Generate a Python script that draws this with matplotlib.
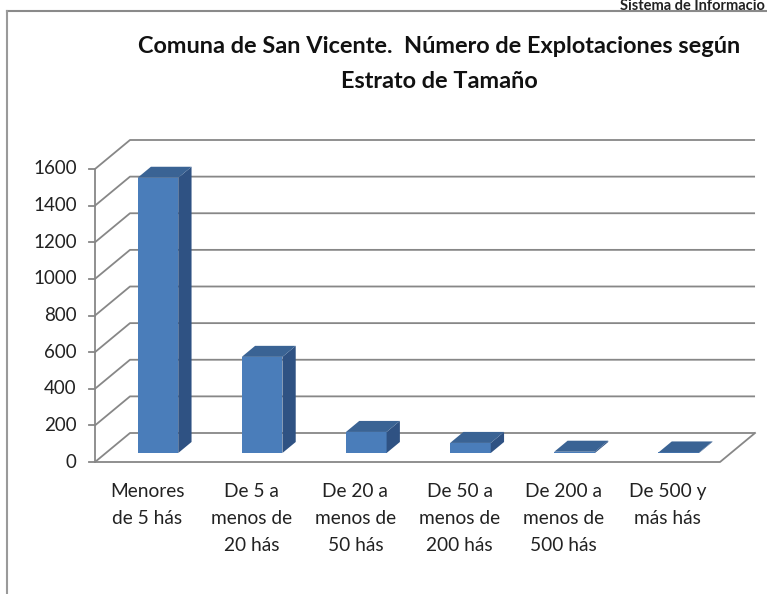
import matplotlib
matplotlib.use("Agg")
import matplotlib.pyplot as plt
from matplotlib.patches import Polygon

FONT = ["Lato", "DejaVu Sans"]

categories = ["Menores\nde 5 hás", "De 5 a\nmenos de\n20 hás", "De 20 a\nmenos de\n50 hás",
              "De 50 a\nmenos de\n200 hás", "De 200 a\nmenos de\n500 hás", "De 500 y\nmás hás"]
values = [1503, 525, 115, 55, 7, 3]
yticks = [0, 200, 400, 600, 800, 1000, 1200, 1400, 1600]
title = "Comuna de San Vicente.  Número de Explotaciones según\nEstrato de Tamaño"

W, H = 767, 594
fig = plt.figure(figsize=(W / 100, H / 100), dpi=100)
ax = fig.add_axes([0, 0, 1, 1])
ax.axis("off")

# pixel geometry -> data mapping
x0px, slot_px = 95.0, 104.17
y0px, ppu = 462.0, 293.0 / 1600
ax.set_xlim(-x0px / slot_px, (W - x0px) / slot_px)
ax.set_ylim((y0px - H) / ppu, y0px / ppu)
DX = 35.0 / slot_px      # depth offset in x units
DY = 29.0 / ppu          # depth offset in value units
n = len(categories)
ymax = yticks[-1]

grid_c = "#878787"
lw = 1.3
# wall gridlines (left wall diagonals + back wall)
for v in yticks:
    ax.plot([0, DX, n + DX], [v, v + DY, v + DY], color=grid_c, lw=lw, zorder=1,
            solid_capstyle="butt")
# floor outline
ax.plot([0, n, n + DX], [0, 0, DY], color=grid_c, lw=lw, zorder=1)
# front vertical axis and ticks
ax.plot([0, 0], [0, ymax], color=grid_c, lw=lw, zorder=1)
for v in yticks:
    ax.plot([-0.06, 0], [v, v], color=grid_c, lw=lw, zorder=1)
    ax.text(-0.175, v, str(v), ha="right", va="center", fontsize=13.5,
            family=FONT, color="#222222")

# 3D bars
front_c, side_c, top_c = "#4A7DBA", "#2F5283", "#3A6394"
bw = 0.39
d0, d1 = 0.31, 0.69
for i, v in enumerate(values):
    cx = i + 0.5 + d0 * DX
    b = d0 * DY
    xl, xr = cx - bw / 2, cx + bw / 2
    ddx, ddy = (d1 - d0) * DX, (d1 - d0) * DY
    ax.bar(cx, v, width=bw, bottom=b, color=front_c, edgecolor="none", zorder=3)
    ax.add_patch(Polygon([(xr, b), (xr + ddx, b + ddy), (xr + ddx, b + ddy + v), (xr, b + v)],
                         closed=True, facecolor=side_c, edgecolor="none", zorder=3))
    ax.add_patch(Polygon([(xl, b + v), (xr, b + v), (xr + ddx, b + v + ddy), (xl + ddx, b + v + ddy)],
                         closed=True, facecolor=top_c, edgecolor="none", zorder=3))

# category labels
for i, c in enumerate(categories):
    ax.text(i + 0.5, (y0px - 483) / ppu, c, ha="center", va="top", fontsize=13.8,
            linespacing=1.72, family=FONT, color="#222222")

# title
fig.text(439 / W, 1 - 36 / H, title, ha="center", va="top", fontsize=16.9,
         fontweight="bold", linespacing=1.85, family=FONT, color="#111111")

# page frame and header
fig.add_artist(plt.Line2D([7 / W, 1], [1 - 11 / H, 1 - 11 / H], color="#8a8a8a", lw=1.5))
fig.add_artist(plt.Line2D([7 / W, 7 / W], [0, 1 - 11 / H], color="#9a9a9a", lw=1.5))
fig.text(1 - 2 / W, 1 - 9.5 / H, "Sistema de Informacio", ha="right", va="baseline",
         fontsize=10.5, fontweight="bold", family=FONT, color="#222222")

fig.savefig("out.png", dpi=100)
